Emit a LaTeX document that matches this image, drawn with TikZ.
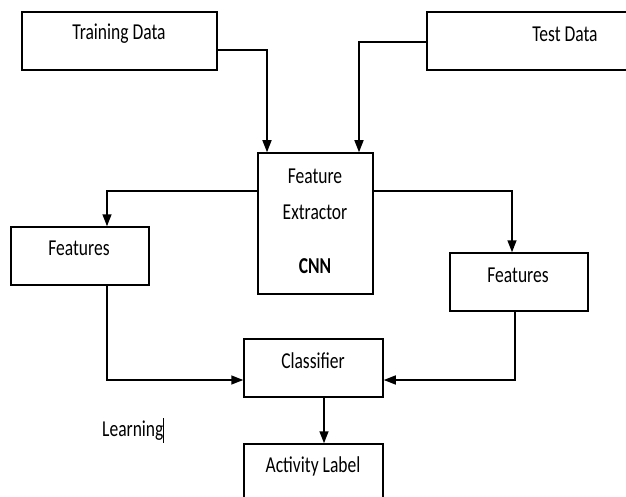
\documentclass[tikz,border=0pt]{standalone}
\usepackage{fontspec}
\setmainfont{Carlito}
\usetikzlibrary{arrows.meta}
\newcommand\tallt[1]{\scalebox{1}[1.3]{#1}}
\begin{document}
\begin{tikzpicture}[x=1pt,y=-1pt,
  box/.style={draw,line width=1.5pt,inner sep=0pt,minimum width=#1},
  txt/.style={inner sep=0pt,font=\fontsize{17.5pt}{21pt}\selectfont},
  arr/.style={line width=1.5pt,-{Triangle[length=12pt,width=9pt]}},
  ln/.style={line width=1.5pt}]
\useasboundingbox (0,0) rectangle (626,497);
% boxes
\node[box=195pt,minimum height=58pt] (train) at (119.5,41) {};
\node[box=203pt,minimum height=58pt] (test) at (528.5,41) {};
\node[box=115pt,minimum height=141pt] (fe) at (315.5,223.5) {};
\node[box=138pt,minimum height=58pt] (featL) at (80,256) {};
\node[box=138pt,minimum height=58pt] (featR) at (519,282) {};
\node[box=139pt,minimum height=58pt] (cls) at (313.5,368) {};
\node[box=139pt,minimum height=61pt] (act) at (313.5,474.5) {};
% texts
\node[txt] (trainT) at (119,34) {\tallt{Training Data}};
\node[txt] (testT) at (565,34) {\tallt{Test Data}};
\node[txt] (feT1) at (315,176) {\tallt{Feature}};
\node[txt] (feT2) at (315,212) {\tallt{Extractor}};
\node[txt,font=\fontsize{17.5pt}{21pt}\selectfont\bfseries] (feT3) at (315,266) {\tallt{CNN}};
\node[txt] (featLT) at (79,248) {\tallt{Features}};
\node[txt] (featRT) at (518,275) {\tallt{Features}};
\node[txt] (clsT) at (313,361) {\tallt{Classifier}};
\node[txt] (actT) at (313,466) {\tallt{Activity Label}};
\node[txt,anchor=west] (learn) at (102,430) {\tallt{Learning}\rule[-6pt]{0.8pt}{25pt}};
% connectors
\draw[arr] ([yshift=-9pt]train.east) -| ([xshift=-48.5pt]fe.north);
\draw[arr] ([yshift=-1pt]test.west) -| ([xshift=43.5pt]fe.north);
\draw[arr] ([yshift=32.5pt]fe.west) -| ([xshift=27pt]featL.north);
\draw[arr] ([yshift=32.5pt]fe.east) -| ([xshift=-7pt]featR.north);
\draw[arr] ([xshift=27pt]featL.south) |- ([yshift=-12pt]cls.west);
\draw[arr] ([xshift=-4pt]featR.south) |- ([yshift=-12pt]cls.east);
\draw[arr] ([xshift=10.5pt]cls.south) -- ([xshift=10.5pt]act.north);
\end{tikzpicture}
\end{document}
